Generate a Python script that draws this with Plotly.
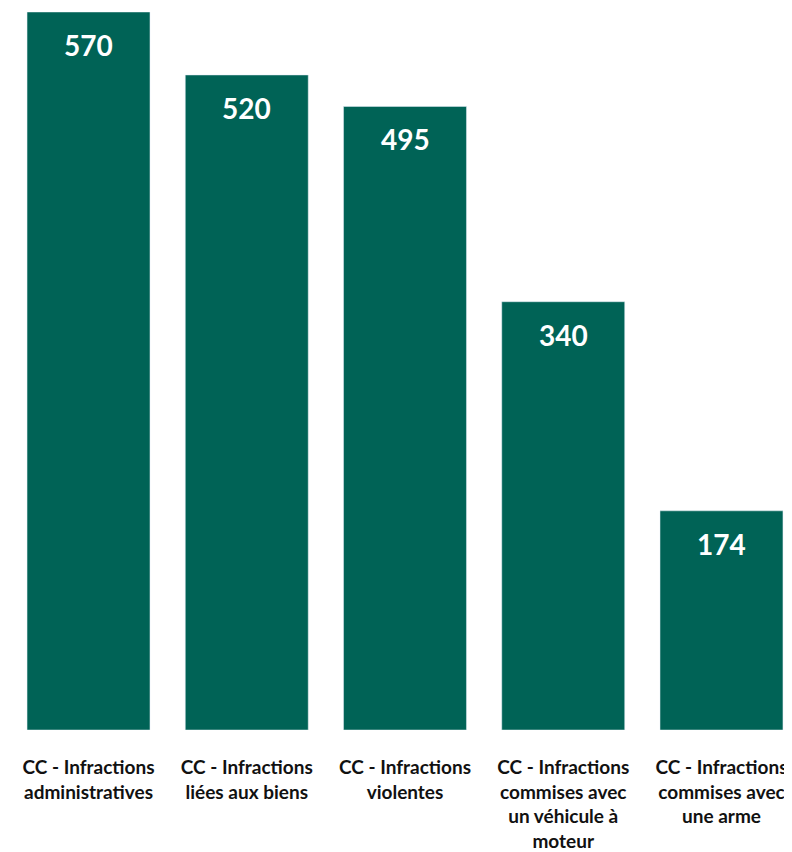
import plotly.graph_objects as go

categories = [
    "CC - Infractions<br>administratives",
    "CC - Infractions<br>liées aux biens",
    "CC - Infractions<br>violentes",
    "CC - Infractions<br>commises avec<br>un véhicule à<br>moteur",
    "CC - Infractions<br>commises avec<br>une arme",
]
values = [570, 520, 495, 340, 174]
xpos = list(range(len(categories)))

BAR = "#006356"

fig = go.Figure(go.Bar(
    x=xpos, y=values, marker_color=BAR, width=0.777,
    hoverinfo="skip",
))

for x, v in zip(xpos, values):
    fig.add_annotation(x=x, y=v, yshift=-33, text=f"<b>{v}</b>", showarrow=False,
                       font=dict(family="Lato", size=28, color="white"),
                       yanchor="middle", xanchor="center")

fig.update_layout(
    width=784, height=844,
    margin=dict(l=12, r=2, t=4, b=122),
    paper_bgcolor="white", plot_bgcolor="white",
    showlegend=False,
    font=dict(family="Lato", color="#111111"),
    xaxis=dict(range=[-0.433, 4.433], tickvals=xpos,
               ticktext=[f"<b>{c}</b>" for c in categories],
               tickfont=dict(family="Lato", size=19, color="#111111"),
               showgrid=False, zeroline=False, showline=False, ticks="",
               ticklabelstandoff=24, automargin=False),
    yaxis=dict(range=[0, 570], visible=False, showgrid=False, zeroline=False,
               automargin=False),
)

fig.write_html("out.html")
